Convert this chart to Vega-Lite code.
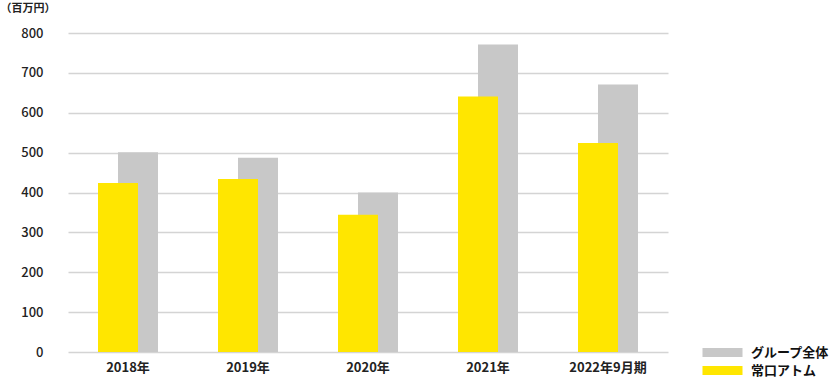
{
  "$schema": "https://vega.github.io/schema/vega-lite/v6.json",
  "autosize": "none",
  "width": 603,
  "height": 319,
  "padding": {"left": 62, "top": 33, "right": 165, "bottom": 29},
  "background": "white",
  "config": {
    "font": "Noto Sans CJK JP",
    "view": {"stroke": null}
  },
  "data": {
    "values": [
      {"year": "2018年", "series": "グループ全体", "value": 501},
      {"year": "2019年", "series": "グループ全体", "value": 487},
      {"year": "2020年", "series": "グループ全体", "value": 400},
      {"year": "2021年", "series": "グループ全体", "value": 771},
      {"year": "2022年9月期", "series": "グループ全体", "value": 671},
      {"year": "2018年", "series": "常口アトム", "value": 424},
      {"year": "2019年", "series": "常口アトム", "value": 434},
      {"year": "2020年", "series": "常口アトム", "value": 344},
      {"year": "2021年", "series": "常口アトム", "value": 641},
      {"year": "2022年9月期", "series": "常口アトム", "value": 524}
    ]
  },
  "encoding": {
    "x": {
      "field": "year",
      "type": "nominal",
      "sort": null,
      "scale": {"range": [6, 606], "paddingInner": 0, "paddingOuter": 0},
      "axis": {
        "title": null,
        "labelAngle": 0,
        "domain": false,
        "ticks": false,
        "labelFontSize": 13,
        "labelFontWeight": "bold",
        "labelColor": "#222",
        "labelPadding": 9,
        "grid": false
      }
    },
    "y": {
      "field": "value",
      "type": "quantitative",
      "scale": {"domain": [0, 800], "nice": false},
      "axis": {
        "values": [0, 100, 200, 300, 400, 500, 600, 700, 800],
        "title": "（百万円）",
        "titleAngle": 0,
        "titleAlign": "left",
        "titleBaseline": "middle",
        "titleX": -62,
        "titleY": -25,
        "titleFontSize": 11,
        "titleFontWeight": "bold",
        "titleColor": "#222",
        "domain": false,
        "ticks": false,
        "labelFontSize": 13,
        "labelFontWeight": 500,
        "labelColor": "#222",
        "labelPadding": 19,
        "gridColor": "#d4d4d4",
        "gridWidth": 1.5
      }
    },
    "color": {
      "field": "series",
      "type": "nominal",
      "scale": {"domain": ["グループ全体", "常口アトム"], "range": ["#c8c8c8", "#ffe600"]},
      "legend": {
        "title": null,
        "orient": "none",
        "legendX": 654,
        "legendY": 313,
        "symbolType": "M-5,-1.1H5V1.1H-5Z",
        "symbolSize": 64,
        "symbolStrokeWidth": 0,
        "symbolOpacity": 1,
        "labelFontSize": 13,
        "labelFontWeight": "bold",
        "labelColor": "#111",
        "labelOffset": 22,
        "rowPadding": 4
      }
    }
  },
  "layer": [
    {
      "transform": [{"filter": "datum.series === 'グループ全体'"}],
      "mark": {"type": "bar", "width": 40, "xOffset": 10}
    },
    {
      "transform": [{"filter": "datum.series === '常口アトム'"}],
      "mark": {"type": "bar", "width": 40, "xOffset": -10}
    }
  ]
}
